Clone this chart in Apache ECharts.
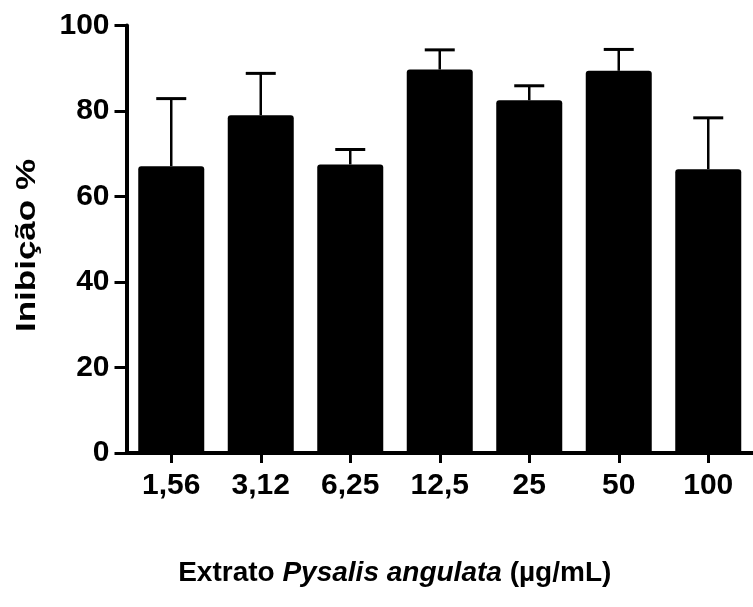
<!DOCTYPE html>
<html>
<head>
<meta charset="utf-8">
<script src="https://cdn.jsdelivr.net/npm/echarts@6/dist/echarts.min.js"></script>
<style>
  html, body { margin: 0; padding: 0; background: #fff; }
  #chart { width: 753px; height: 607px; }
</style>
</head>
<body>
<div id="chart"></div>
<script>
// Extract concentrations (µg/mL)
const categories = ['1,56', '3,12', '6,25', '12,5', '25', '50', '100'];
// Mean inhibition (%)
const means = [67.1, 79.0, 67.5, 89.7, 82.5, 89.4, 66.4];
// Upper error (SD) for each concentration
const errors = [15.8, 9.8, 3.5, 4.6, 3.4, 5.0, 12.0];
// Y axis ticks
const yMin = 0, yMax = 100, yStep = 20;
// Axis titles
const yTitle = 'Inibição %';
const xTitle = '{n|Extrato }{i|Pysalis angulata}{n| (µg/mL)}';

const FONT = '"Liberation Sans", Arial, Helvetica, sans-serif';

const errorData = means.map((m, i) => [i, m, m + errors[i]]);

const chart = echarts.init(document.getElementById('chart'), null, { renderer: 'canvas' });

chart.setOption({
  backgroundColor: '#ffffff',
  animation: false,
  grid: { left: 126.5, top: 25.5, width: 636, bottom: 154 },
  // Vertical axis title, drawn wide along its reading direction
  graphic: [{
    type: 'text',
    x: 27,
    y: 245.5,
    rotation: Math.PI / 2,
    scaleX: 1.25,
    style: {
      text: yTitle,
      font: 'bold 28px ' + FONT,
      fill: '#000',
      align: 'center',
      verticalAlign: 'middle'
    }
  }],
  xAxis: {
    type: 'category',
    data: categories,
    boundaryGap: true,
    axisLine: { show: true, lineStyle: { color: '#000', width: 4 } },
    axisTick: { show: true, alignWithLabel: true, length: 10, lineStyle: { color: '#000', width: 3 } },
    axisLabel: { margin: 18, color: '#000', fontFamily: FONT, fontWeight: 'bold', fontSize: 30 },
    name: xTitle,
    nameLocation: 'middle',
    nameGap: 106,
    nameTextStyle: {
      padding: [0, 90, 0, 0],
      rich: {
        n: { fontFamily: FONT, fontWeight: 'bold', fontSize: 28, color: '#000' },
        i: { fontFamily: FONT, fontWeight: 'bold', fontStyle: 'italic', fontSize: 28, color: '#000' }
      }
    }
  },
  yAxis: {
    type: 'value',
    min: yMin,
    max: yMax,
    interval: yStep,
    splitLine: { show: false },
    axisLine: { show: true, lineStyle: { color: '#000', width: 4 } },
    axisTick: { show: true, length: 12, lineStyle: { color: '#000', width: 3 } },
    axisLabel: { margin: 17, color: '#000', fontFamily: FONT, fontWeight: 'bold', fontSize: 30 }
  },
  series: [
    {
      type: 'bar',
      data: means,
      barWidth: 66,
      itemStyle: { color: '#000', borderRadius: [3, 3, 0, 0] },
      z: 2
    },
    {
      type: 'custom',
      data: errorData,
      encode: { x: 0, y: [1, 2] },
      z: 3,
      renderItem: function (params, api) {
        const idx = api.value(0);
        const base = api.coord([idx, api.value(1)]);
        const top = api.coord([idx, api.value(2)]);
        const half = 15;
        return {
          type: 'group',
          children: [
            { type: 'line', shape: { x1: base[0], y1: base[1], x2: top[0], y2: top[1] },
              style: { stroke: '#000', lineWidth: 2.5 } },
            { type: 'line', shape: { x1: top[0] - half, y1: top[1], x2: top[0] + half, y2: top[1] },
              style: { stroke: '#000', lineWidth: 3 } }
          ]
        };
      }
    }
  ]
});
</script>
</body>
</html>
